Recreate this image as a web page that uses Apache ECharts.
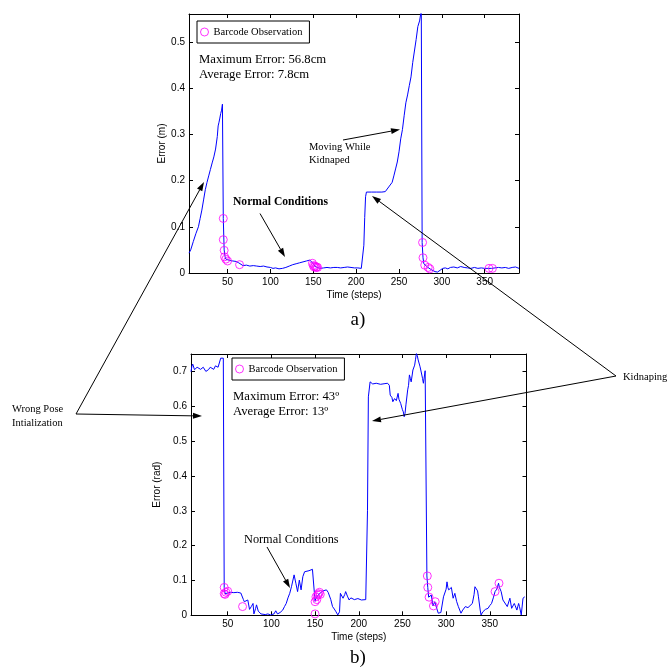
<!DOCTYPE html>
<html><head><meta charset="utf-8">
<script src="https://cdn.jsdelivr.net/npm/echarts@6.0.0/dist/echarts.min.js"></script>
<style>html,body{margin:0;padding:0;background:#fff}#c{width:668px;height:671px}</style>
</head><body><div id="c"></div>
<script>
// ---------- data ----------
const xTickValues = [50, 100, 150, 200, 250, 300, 350];
const posTickValues = [0, 0.1, 0.2, 0.3, 0.4, 0.5];
const angTickValues = [0, 0.1, 0.2, 0.3, 0.4, 0.5, 0.6, 0.7];

// (a) position error (m)
const posSteps = [5,7,10,13,16,18,20,22,24,26,28,30,32,34,36,38,39,40,41,42,43,44,45,46,47,48,50,53,56,60,63,65,68,72,76,80,84,88,92,96,100,103,106,110,114,118,122,126,130,134,138,142,146,148,150,152,155,158,162,166,170,174,178,182,186,190,194,198,202,206,208,209,210,211,212,218,224,230,234,236,238,240,242,244,246,248,250,252,254,256,258,260,262,264,266,268,270,272,274,276,277,278,279,281,283,285,287,289,292,295,298,301,304,307,310,314,318,322,326,330,334,338,342,346,350,354,358,362,366,370,374,378,382,386,390];
const posError = [0.043,0.050,0.068,0.085,0.100,0.118,0.136,0.158,0.180,0.196,0.210,0.224,0.238,0.251,0.268,0.295,0.318,0.326,0.335,0.345,0.352,0.365,0.118,0.050,0.036,0.030,0.027,0.027,0.026,0.025,0.022,0.019,0.016,0.017,0.015,0.016,0.015,0.014,0.015,0.013,0.012,0.010,0.011,0.009,0.010,0.012,0.015,0.018,0.020,0.022,0.024,0.026,0.028,0.027,0.020,0.014,0.012,0.010,0.011,0.012,0.011,0.012,0.012,0.011,0.012,0.013,0.012,0.011,0.011,0.010,0.012,0.060,0.120,0.165,0.175,0.175,0.175,0.175,0.176,0.180,0.186,0.190,0.196,0.210,0.225,0.240,0.262,0.290,0.310,0.340,0.368,0.385,0.405,0.424,0.455,0.480,0.505,0.533,0.545,0.568,0.066,0.033,0.020,0.016,0.013,0.010,0.008,0.005,0.003,0.002,0.006,0.010,0.011,0.009,0.012,0.013,0.011,0.014,0.012,0.011,0.010,0.012,0.010,0.011,0.010,0.010,0.010,0.011,0.012,0.011,0.012,0.010,0.012,0.013,0.010];
const posObsSteps = [45,45,46,46.5,48,50,64,149,150,151,152,153,154,155,277.5,278,280,284,286,355,359];
const posObsError = [0.118,0.072,0.049,0.035,0.030,0.026,0.018,0.021,0.016,0.013,0.015,0.012,0.013,0.012,0.066,0.033,0.017,0.012,0.009,0.010,0.010];

// (b) orientation error (rad)
const angSteps = [8,9,10,12,14,15,17,19,20,22,23,25,27,28,30,32,34,36,37,39,40,42,45,46,47,49,53,57,61,65,67,68,69,71,73,75,77,79,80,82,83,85,86,88,90,93,96,99,101,103,105,107,110,113,115,117,119,121,123,124,126,128,130,132,134,136,138,140,143,145,147,149,150,151,153,155,157,159,161,163,165,166,168,170,172,174,176,178,179,180,182,184,185,187,189,191,193,195,197,199,201,203,205,208,209,210,211,213,216,220,225,230,233,235,236,238,239,241,243,245,246,248,250,251,252,253,254,256,257,258,259,260,262,264,265,266,267,268,270,271,273,274,276,277,278,279,280,281,283,285,287,288,291,294,297,300,301,302,303,306,308,310,312,314,317,319,322,325,327,330,332,333,335,336,337,339,340,342,345,348,350,352,354,356,358,360,361,363,365,367,370,373,375,378,379,381,383,384,386,388,390];
const angError = [0.699,0.715,0.721,0.705,0.706,0.712,0.716,0.706,0.701,0.712,0.709,0.700,0.695,0.705,0.712,0.708,0.706,0.716,0.721,0.712,0.714,0.738,0.738,0.080,0.062,0.066,0.066,0.065,0.066,0.064,0.066,0.045,0.039,0.042,0.044,0.017,0.025,0.034,0.004,0.020,0.030,0.012,0.010,0.004,0.006,0.002,0.004,0.001,0.006,0.004,0.013,0.004,0.008,0.015,0.025,0.034,0.050,0.063,0.082,0.078,0.116,0.092,0.068,0.101,0.073,0.111,0.125,0.123,0.128,0.127,0.132,0.130,0.040,0.050,0.055,0.062,0.066,0.070,0.068,0.073,0.066,0.063,0.045,0.025,0.018,0.010,0.001,0.010,0.063,0.058,0.049,0.060,0.068,0.055,0.044,0.050,0.049,0.045,0.044,0.048,0.046,0.044,0.047,0.045,0.046,0.300,0.627,0.670,0.664,0.666,0.663,0.665,0.666,0.660,0.632,0.625,0.613,0.622,0.616,0.637,0.620,0.608,0.590,0.584,0.570,0.580,0.604,0.647,0.660,0.690,0.680,0.670,0.704,0.718,0.735,0.752,0.745,0.733,0.715,0.704,0.680,0.666,0.702,0.700,0.113,0.080,0.052,0.050,0.058,0.027,0.039,0.030,0.006,0.008,0.053,0.075,0.096,0.080,0.073,0.080,0.049,0.063,0.040,0.025,0.006,0.015,0.025,0.022,0.020,0.034,0.060,0.082,0.087,0.070,0.053,0.015,0.001,0.010,0.017,0.020,0.028,0.034,0.050,0.068,0.075,0.092,0.080,0.068,0.044,0.046,0.025,0.049,0.020,0.034,0.028,0.015,0.034,0.025,0.001,0.049,0.053];
const angObsSteps = [46,46,47,48,50,67,150,150,151,152,153,154,155,156,278.5,279,280.5,285.5,287.5,356,360.5];
const angObsError = [0.080,0.062,0.060,0.066,0.069,0.025,0.004,0.039,0.053,0.045,0.058,0.062,0.066,0.060,0.113,0.080,0.052,0.027,0.039,0.068,0.092];

// ---------- helpers ----------
const zip = (a, b) => a.map((v, i) => [v, b[i]]);
const SANS = '"Liberation Sans", Arial, sans-serif';
const SERIF = '"Liberation Serif", "Times New Roman", serif';
const black = '#000';

function xAxisCfg(gridIndex, position, min, max, showLabels, name) {
  return {
    type: 'value', gridIndex, position, min, max,
    name: name || '', nameLocation: 'middle', nameGap: 17,
    nameTextStyle: { fontFamily: SANS, fontSize: 10, color: black },
    axisLine: { show: true, onZero: false, lineStyle: { color: black, width: 1 } },
    axisTick: { show: true, inside: true, length: 4, customValues: xTickValues, lineStyle: { color: black } },
    axisLabel: { show: showLabels, customValues: xTickValues, color: black, fontFamily: SANS, fontSize: 10, margin: 4 },
    splitLine: { show: false }
  };
}
function yAxisCfg(gridIndex, position, max, ticks, showLabels, name, gap) {
  return {
    type: 'value', gridIndex, position, min: 0, max,
    name: name || '', nameLocation: 'middle', nameGap: gap || 22,
    nameTextStyle: { fontFamily: SANS, fontSize: 10, color: black },
    axisLine: { show: true, onZero: false, lineStyle: { color: black, width: 1 } },
    axisTick: { show: true, inside: true, length: 4, customValues: ticks, lineStyle: { color: black } },
    axisLabel: { show: showLabels, customValues: ticks, color: black, fontFamily: SANS, fontSize: 10, margin: 4 },
    splitLine: { show: false }
  };
}
function arrow(x1, y1, x2, y2) {
  const dx = x2 - x1, dy = y2 - y1, L = Math.hypot(dx, dy), ux = dx / L, uy = dy / L;
  const hl = 9, hw = 3;
  const bx = x2 - ux * hl, by = y2 - uy * hl;
  return [
    { type: 'line', z: 100, shape: { x1, y1, x2: bx, y2: by }, style: { stroke: black, lineWidth: 1 } },
    { type: 'polygon', z: 100, shape: { points: [[x2, y2], [bx - uy * hw, by + ux * hw], [bx + uy * hw, by - ux * hw]] }, style: { fill: black } }
  ];
}
function txt(text, x, y, size, opts) {
  return { type: 'text', z: 100, style: { text, x, y, fill: black,
    font: (opts && opts.weight ? opts.weight + ' ' : '') + size + 'px ' + ((opts && opts.font) || SERIF),
    align: (opts && opts.align) || 'left', verticalAlign: 'middle' } };
}
const legendCfg = (left, top) => ({
  data: ['Barcode Observation'], left, top, orient: 'horizontal',
  padding: [5, 7, 5, 3], itemWidth: 8, itemHeight: 8, itemGap: 5,
  borderColor: black, borderWidth: 1, borderRadius: 0, backgroundColor: '#fff',
  itemStyle: { color: 'rgba(0,0,0,0)', borderColor: '#ff00ff', borderWidth: 1 },
  textStyle: { fontFamily: SERIF, fontSize: 10.5, color: black, lineHeight: 12 },
  selectedMode: false
});
const obsStyle = { color: 'rgba(0,0,0,0)', borderColor: '#ff00ff', borderWidth: 1 };

const chart = echarts.init(document.getElementById('c'), null, { renderer: 'canvas' });
chart.setOption({
  animation: false,
  backgroundColor: '#fff',
  grid: [
    { left: 189, top: 14, width: 330, height: 259 },
    { left: 191, top: 354, width: 335.5, height: 261.3 }
  ],
  xAxis: [
    xAxisCfg(0, 'bottom', 5, 390, true, 'Time (steps)'),
    xAxisCfg(0, 'top', 5, 390, false),
    xAxisCfg(1, 'bottom', 8, 392, true, 'Time (steps)'),
    xAxisCfg(1, 'top', 8, 392, false)
  ],
  yAxis: [
    yAxisCfg(0, 'left', 0.56, posTickValues, true, 'Error (m)', 21),
    yAxisCfg(0, 'right', 0.56, posTickValues, false),
    yAxisCfg(1, 'left', 0.75, angTickValues, true, 'Error (rad)', 22),
    yAxisCfg(1, 'right', 0.75, angTickValues, false)
  ],
  legend: [legendCfg(197, 21), legendCfg(232, 358)],
  series: [
    { type: 'line', xAxisIndex: 0, yAxisIndex: 0, data: zip(posSteps, posError), showSymbol: false, symbol: 'none',
      lineStyle: { color: '#0000ff', width: 1 }, clip: true },
    { type: 'scatter', name: 'Barcode Observation', xAxisIndex: 0, yAxisIndex: 0, data: zip(posObsSteps, posObsError),
      symbol: 'circle', symbolSize: 8, itemStyle: obsStyle, z: 3 },
    { type: 'line', xAxisIndex: 2, yAxisIndex: 2, data: zip(angSteps, angError), showSymbol: false, symbol: 'none',
      lineStyle: { color: '#0000ff', width: 1 }, clip: true },
    { type: 'scatter', name: 'Barcode Observation', xAxisIndex: 2, yAxisIndex: 2, data: zip(angObsSteps, angObsError),
      symbol: 'circle', symbolSize: 8, itemStyle: obsStyle, z: 3 }
  ],
  graphic: [
    txt('Maximum Error: 56.8cm', 199, 60, 12.7),
    txt('Average Error: 7.8cm', 199, 75, 12.7),
    txt('Moving While', 309, 147, 10.5),
    txt('Kidnaped', 309, 160, 10.5),
    txt('Normal Conditions', 233, 202, 11.6, { weight: 'bold' }),
    txt('a)', 358, 320, 19, { align: 'center' }),
    txt('Maximum Error: 43º', 233, 397, 12.7),
    txt('Average Error: 13º', 233, 412, 12.7),
    txt('Normal Conditions', 244, 540, 12.3),
    txt('b)', 358, 658, 19, { align: 'center' }),
    txt('Wrong Pose', 12, 409, 10.5),
    txt('Intialization', 12, 423, 10.5),
    txt('Kidnaping', 623, 377, 10.5),
    ...arrow(343, 140, 400, 129.5),
    ...arrow(260, 213.5, 285, 257),
    ...arrow(267, 547, 290, 588),
    ...arrow(76, 414, 204, 182),
    ...arrow(76, 414, 202, 416),
    ...arrow(616, 376, 372, 196),
    ...arrow(616, 376, 372, 421)
  ]
});
</script>
</body></html>
